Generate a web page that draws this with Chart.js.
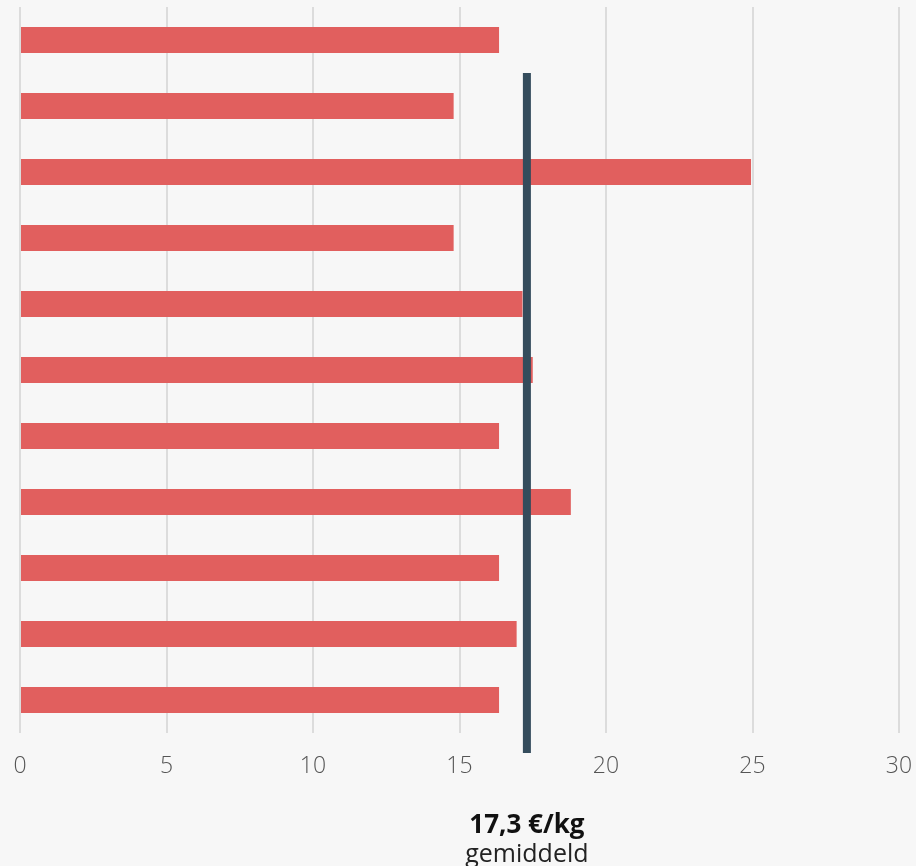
<!DOCTYPE html>
<html>
<head>
<meta charset="utf-8">
<script src="https://cdn.jsdelivr.net/npm/chart.js@4"></script>
<style>
    html, body { margin: 0; padding: 0; background: #f7f7f7; }
    #prijsChart { display: block; }
</style>
</head>
<body>
<canvas id="prijsChart" width="916" height="866"></canvas>
<script>
// prijs per kg per winkel
var winkels = ['Winkel 1', 'Winkel 2', 'Winkel 3', 'Winkel 4', 'Winkel 5', 'Winkel 6',
    'Winkel 7', 'Winkel 8', 'Winkel 9', 'Winkel 10', 'Winkel 11'];
var prijzen = [16.35, 14.8, 24.95, 14.8, 17.15, 17.5, 16.35, 18.8, 16.35, 16.95, 16.35];
var xTicks = [0, 5, 10, 15, 20, 25, 30];
var gemiddelde = 17.3;
var gemiddeldeLabel = '17,3 €/kg';
var gemiddeldeTekst = 'gemiddeld';

const fontFam = "'Open Sans', 'Noto Sans', sans-serif";

// verticale lijn voor het gemiddelde + label eronder
const gemiddeldePlugin = {
    id: 'gemiddeldeLijn',
    afterDatasetsDraw: (chart) => {
        const { ctx, scales } = chart;
        const x = scales.x.getPixelForValue(gemiddelde);
        const top = scales.y.getPixelForValue(0.5);
        const bottom = chart.chartArea.bottom + 20;
        ctx.save();
        ctx.fillStyle = '#344c5c';
        ctx.fillRect(x - 4, top, 8, bottom - top);
        ctx.textAlign = 'center';
        ctx.textBaseline = 'alphabetic';
        ctx.fillStyle = '#111';
        ctx.font = "bold 26px " + fontFam;
        ctx.fillText(gemiddeldeLabel, x, 833);
        ctx.fillStyle = '#222';
        ctx.font = "25px " + fontFam;
        ctx.fillText(gemiddeldeTekst, x, 862);
        ctx.restore();
    }
};

const bgPlugin = {
    id: 'achtergrond',
    beforeDraw: (chart) => {
        const { ctx } = chart;
        ctx.save();
        ctx.fillStyle = '#f7f7f7';
        ctx.fillRect(0, 0, chart.width, chart.height);
        ctx.restore();
    }
};

var config = {
    type: 'bar',
    data: {
        labels: winkels,
        datasets: [
            {
                data: prijzen,
                backgroundColor: '#e15f5e',
                borderWidth: 0,
                categoryPercentage: 1,
                barPercentage: 26 / 66,
            },
        ],
    },
    options: {
        indexAxis: 'y',
        responsive: false,
        animation: false,
        layout: { padding: { left: 20, right: 17, top: 7, bottom: 0 } },
        plugins: {
            legend: { display: false },
            tooltip: { enabled: false },
        },
        scales: {
            x: {
                min: 0,
                max: 30,
                afterBuildTicks: (axis) => {
                    axis.ticks = xTicks.map(v => ({ value: v }));
                },
                afterFit: (axis) => {
                    axis.height = 133;
                    axis.paddingLeft = 0;
                    axis.paddingRight = 0;
                },
                grid: { color: '#dcdcdc', lineWidth: 2, drawTicks: false },
                border: { display: false },
                ticks: {
                    padding: 20,
                    color: '#555',
                    font: { family: fontFam, size: 23, weight: '300' },
                },
            },
            y: {
                display: false,
            },
        },
    },
    plugins: [bgPlugin, gemiddeldePlugin],
};

let prijsChart = new Chart(
    document.getElementById('prijsChart'),
    config
);
</script>
</body>
</html>
